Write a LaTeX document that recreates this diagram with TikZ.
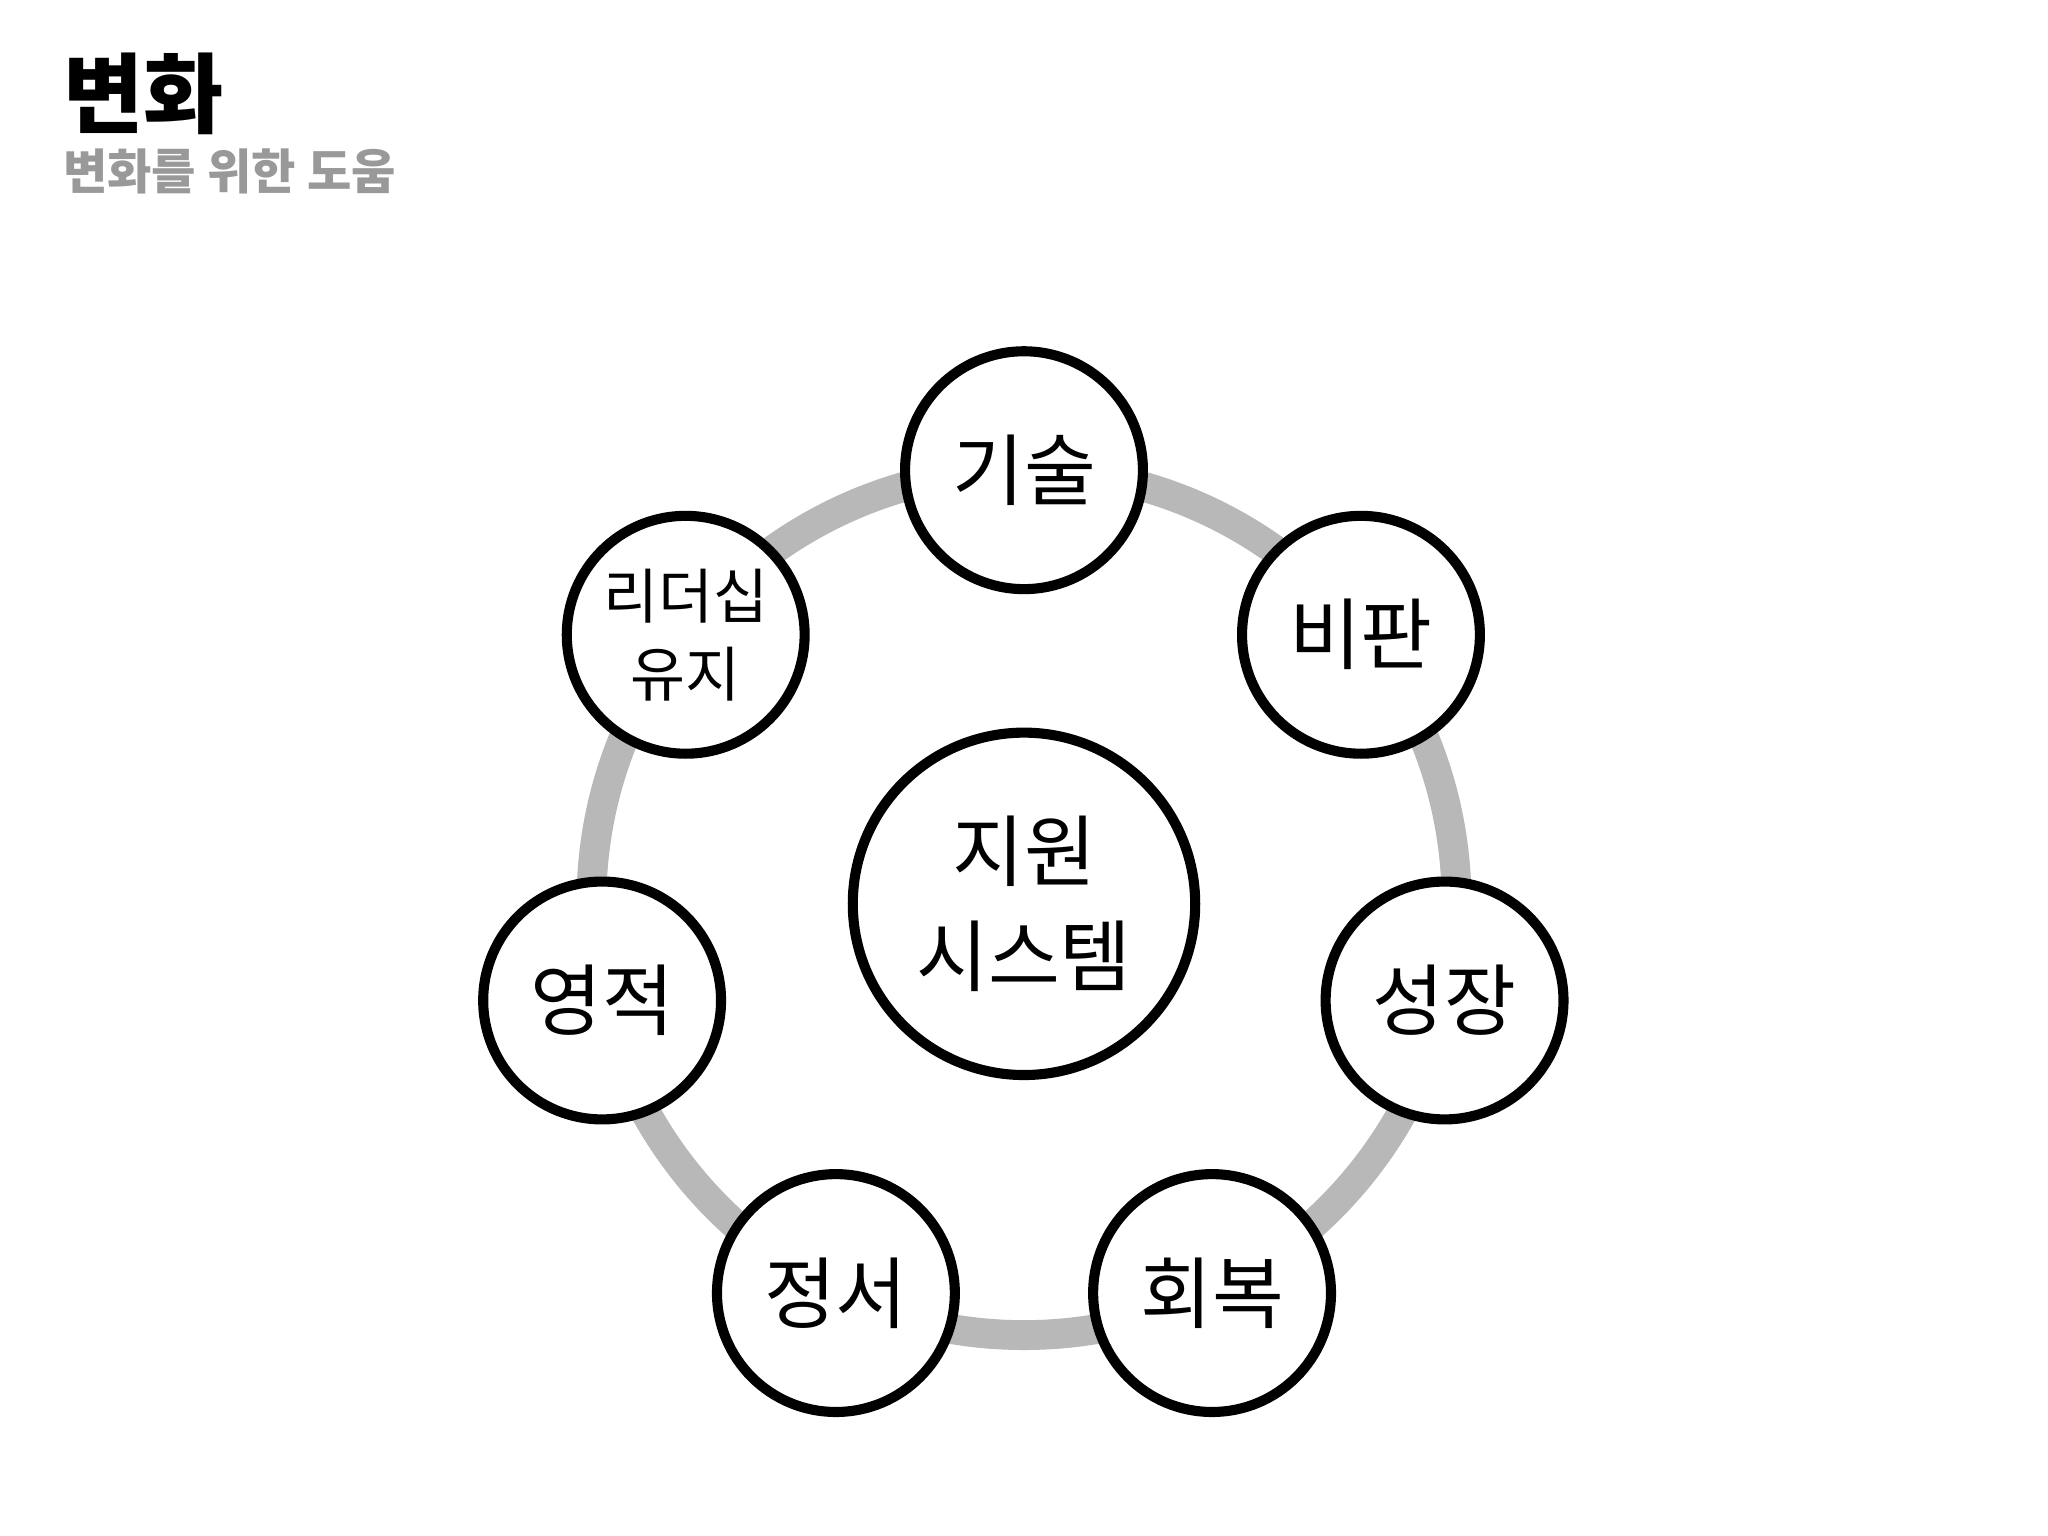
\documentclass[tikz,border=0pt]{standalone}
\usepackage{fontspec}
\setmainfont{Noto Sans CJK KR}
\begin{document}
\begin{tikzpicture}[x=0.01cm,y=-0.01cm,
  outer/.style={circle,draw=black,line width=2.2pt,fill=white,minimum size=182\pgflinewidth,inner sep=0pt,font=\fontsize{17}{20}\selectfont,align=center},
  outerc/.style={outer,minimum size=1.82cm}]
\useasboundingbox (0,0) rectangle (1568,1176);
\fill[white] (0,0) rectangle (1568,1176);
\node[anchor=west,font=\fontsize{19}{22}\selectfont\bfseries] (title) at (36,72) {변화};
\node[anchor=west,font=\fontsize{10.5}{12}\selectfont\bfseries,text=gray!80] (sub) at (36,131) {변화를 위한 도움};
\coordinate (c) at (784,691);
\draw[line width=6.5pt,color=black!28] (c) circle[radius=3.31cm];
\node[outerc] (a) at (784,360) {기술};
\node[outerc] (b) at (1042,486) {비판};
\node[outerc] (d) at (1106,766) {성장};
\node[outerc] (e) at (928,990) {회복};
\node[outerc] (f) at (640,990) {정서};
\node[outerc] (g) at (461,766) {영적};
\node[outerc,font=\fontsize{13}{17}\selectfont] (h) at (525,486) {리더십\\유지};
\node[outerc,minimum size=2.62cm,font=\fontsize{17}{23}\selectfont] (m) at (784,692) {지원\\시스템};
\end{tikzpicture}
\end{document}
